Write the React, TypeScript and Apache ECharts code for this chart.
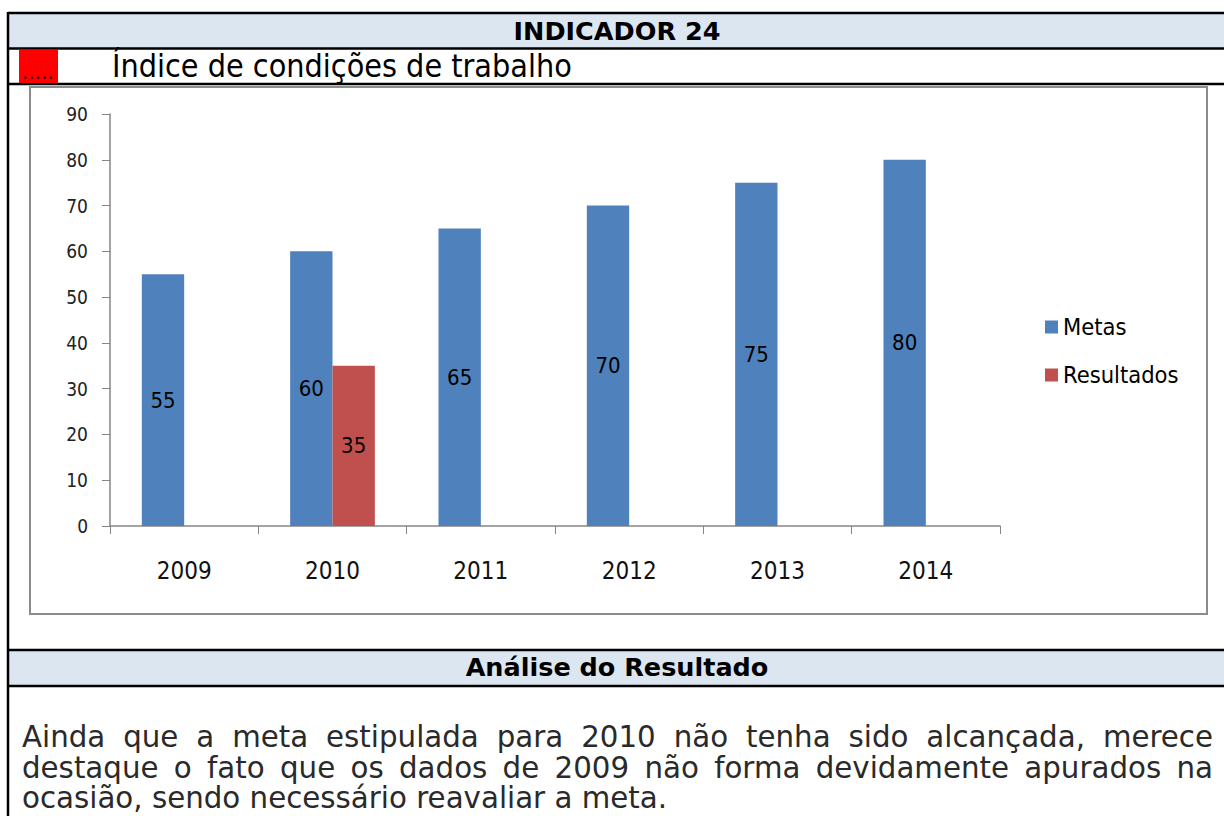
import React, { useEffect, useRef } from 'react';
import * as echarts from 'echarts';

const categories = ['2009', '2010', '2011', '2012', '2013', '2014'];
const metas = [55, 60, 65, 70, 75, 80];
const resultados: (number | null)[] = [null, 35, null, null, null, null];
const seriesNames = ['Metas', 'Resultados'];

const headerTitle = 'INDICADOR 24';
const indicatorName = 'Índice de condições de trabalho';
const markerDots = '.....';
const analysisTitle = 'Análise do Resultado';
const analysisLines = [
  'Ainda que a meta estipulada para 2010 não tenha sido alcançada, merece',
  'destaque o fato que os dados de 2009 não forma devidamente apurados na',
  'ocasião, sendo necessário reavaliar a meta.',
];

const FONT = 'DejaVu Sans';
const COND = '"DejaVu Sans Condensed", "DejaVu Sans"';

function wordElements(line: string, x0: number, x1: number, y: number, size: number, justify: boolean) {
  const canvas = document.createElement('canvas');
  const ctx = canvas.getContext('2d') as CanvasRenderingContext2D;
  ctx.font = `${size}px "${FONT}"`;
  const words = line.split(' ');
  const widths = words.map((w) => ctx.measureText(w).width);
  const total = widths.reduce((a, b) => a + b, 0);
  const gap = justify && words.length > 1 ? (x1 - x0 - total) / (words.length - 1) : ctx.measureText(' ').width;
  let x = x0;
  return words.map((w, i) => {
    const el = {
      type: 'text',
      x,
      y,
      style: { text: w, fontSize: size, fontFamily: FONT, fill: '#2a2a2a', align: 'left', verticalAlign: 'middle' },
    };
    x += widths[i] + gap;
    return el;
  });
}

export default function App() {
  const ref = useRef<HTMLDivElement>(null);
  useEffect(() => {
    if (!ref.current) return;
    const chart = echarts.init(ref.current, null, { renderer: 'svg' });
    const lineStyle = { stroke: '#000', lineWidth: 2.5 };
    const paragraph: any[] = [];
    analysisLines.forEach((l, i) => {
      paragraph.push(...wordElements(l, 22, 1213, 737 + i * 30.7, 29.3, i < analysisLines.length - 1));
    });
    const barLabel = { show: true, position: 'inside', color: '#000', fontSize: 22, fontFamily: COND };
    chart.setOption({
      animation: false,
      backgroundColor: '#fff',
      textStyle: { fontFamily: COND },
      grid: { left: 110, right: 224, top: 114, bottom: 290, containLabel: false },
      legend: {
        orient: 'vertical',
        left: 1040,
        top: 310,
        itemWidth: 13,
        itemHeight: 13,
        itemGap: 24,
        icon: 'rect',
        data: seriesNames,
        textStyle: { fontSize: 23.5, color: '#000', fontFamily: COND },
      },
      xAxis: {
        type: 'category',
        data: categories,
        axisLine: { lineStyle: { color: '#868686', width: 1.5 } },
        axisTick: { show: true, length: 8, lineStyle: { color: '#868686' } },
        axisLabel: { fontSize: 24, color: '#111', margin: 33, fontFamily: COND },
        splitLine: { show: false },
      },
      yAxis: {
        type: 'value',
        min: 0,
        max: 90,
        interval: 10,
        axisLine: { show: true, lineStyle: { color: '#868686', width: 1.5 } },
        axisTick: { show: true, length: 8, lineStyle: { color: '#868686' } },
        axisLabel: { fontSize: 19, color: '#222', margin: 22, fontFamily: COND },
        splitLine: { show: false },
      },
      series: [
        {
          name: seriesNames[0],
          type: 'bar',
          data: metas,
          itemStyle: { color: '#4f81bd' },
          barGap: '0%',
          barCategoryGap: '42.9%',
          label: barLabel,
        },
        {
          name: seriesNames[1],
          type: 'bar',
          data: resultados,
          itemStyle: { color: '#c0504d' },
          barGap: '0%',
          barCategoryGap: '42.9%',
          label: barLabel,
        },
      ],
      graphic: [
        { type: 'rect', shape: { x: 8, y: 13, width: 1230, height: 35 }, style: { fill: '#dce6f1' }, z: -10 },
        { type: 'rect', shape: { x: 8, y: 650, width: 1230, height: 36 }, style: { fill: '#dce6f1' }, z: -10 },
        { type: 'line', shape: { x1: 8, y1: 13, x2: 1230, y2: 13 }, style: lineStyle },
        { type: 'line', shape: { x1: 8, y1: 48.5, x2: 1230, y2: 48.5 }, style: lineStyle },
        { type: 'line', shape: { x1: 8, y1: 84, x2: 1230, y2: 84 }, style: lineStyle },
        { type: 'line', shape: { x1: 8, y1: 650, x2: 1230, y2: 650 }, style: lineStyle },
        { type: 'line', shape: { x1: 8, y1: 686, x2: 1230, y2: 686 }, style: lineStyle },
        { type: 'line', shape: { x1: 8, y1: 12, x2: 8, y2: 820 }, style: lineStyle },
        { type: 'rect', shape: { x: 30, y: 87, width: 1177, height: 527 }, style: { fill: 'none', stroke: '#8c8c8c', lineWidth: 2 } },
        { type: 'rect', shape: { x: 19, y: 50, width: 39, height: 33 }, style: { fill: '#ff0000' } },
        {
          type: 'text', x: 38, y: 72,
          style: { text: markerDots, fontSize: 20, fontFamily: FONT, fill: '#400', align: 'center', verticalAlign: 'middle' },
        },
        {
          type: 'text', x: 617, y: 31,
          style: { text: headerTitle, fontSize: 25.5, fontWeight: 'bold', fontFamily: FONT, fill: '#000', align: 'center', verticalAlign: 'middle' },
        },
        {
          type: 'text', x: 112, y: 66,
          style: { text: indicatorName, fontSize: 32, fontFamily: COND, fill: '#000', align: 'left', verticalAlign: 'middle' },
        },
        {
          type: 'text', x: 617, y: 667,
          style: { text: analysisTitle, fontSize: 25.5, fontWeight: 'bold', fontFamily: FONT, fill: '#000', align: 'center', verticalAlign: 'middle' },
        },
        ...paragraph,
      ],
    });
    return () => chart.dispose();
  }, []);
  return <div ref={ref} style={{ position: 'absolute', left: 0, top: 0, width: 1224, height: 816 }} />;
}
